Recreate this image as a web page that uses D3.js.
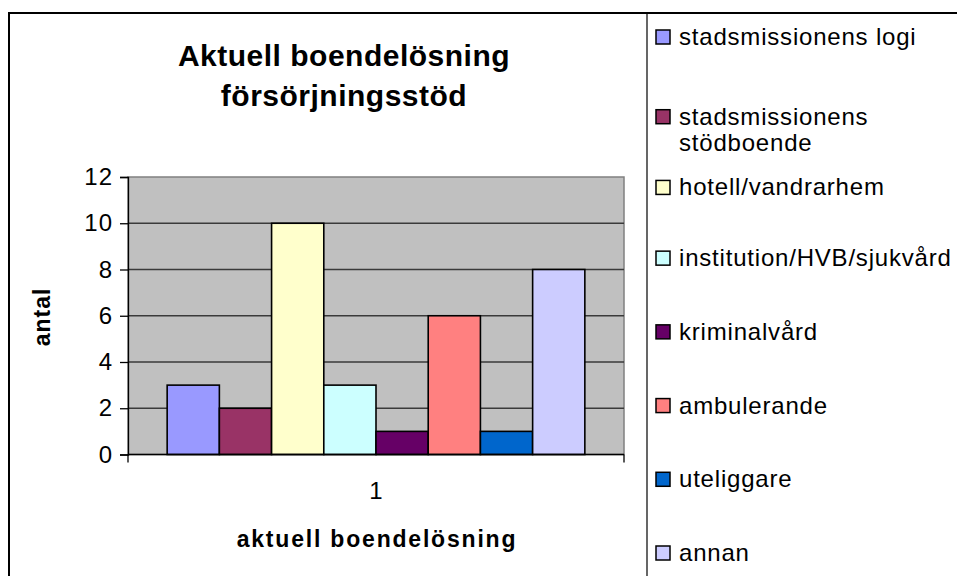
<!DOCTYPE html>
<html>
<head>
<meta charset="utf-8">
<script src="https://cdn.jsdelivr.net/npm/d3@7.9.0/dist/d3.min.js"></script>
<style>
  body { margin: 0; background: #fff; }
  svg { display: block; font-family: Arial, "Liberation Sans", sans-serif; }
</style>
</head>
<body>
<svg id="chart" width="957" height="576"></svg>
<script>
// data
const categories = [
  "stadsmissionens logi",
  "stadsmissionens stödboende",
  "hotell/vandrarhem",
  "institution/HVB/sjukvård",
  "kriminalvård",
  "ambulerande",
  "uteliggare",
  "annan"
];
const values = [3, 2, 10, 3, 1, 6, 1, 8];
const colorsList = ["#9999FF", "#993366", "#FFFFCC", "#CCFFFF", "#660066", "#FF8080", "#0066CC", "#CCCCFF"];
const yTicks = [0, 2, 4, 6, 8, 10, 12];
const xGroups = ["1"];
const titleLines = ["Aktuell boendelösning", "försörjningsstöd"];

const data = categories.map((c, i) => ({ label: c, value: values[i] }));

const svg = d3.select("#chart");

// plot area box
const plot = { left: 128, right: 624, top: 177, bottom: 454.5 };

// outer frame + legend separator
svg.append("rect")
  .attr("x", 9).attr("y", 13)
  .attr("width", 1000).attr("height", 600)
  .attr("fill", "#fff")
  .attr("stroke", "#000")
  .attr("stroke-width", 2);

svg.append("line")
  .attr("x1", 647).attr("x2", 647)
  .attr("y1", 13).attr("y2", 576)
  .attr("stroke", "#000")
  .attr("stroke-width", 1.2);

let x0 = d3.scaleBand().domain(xGroups).range([plot.left, plot.right]);
let x1 = d3.scaleBand().domain(categories)
  .range([0, x0.bandwidth()])
  .paddingInner(0)
  .paddingOuter(0.75);
let y = d3.scaleLinear().domain([0, 12]).range([plot.bottom, plot.top]);
let color = d3.scaleOrdinal().domain(categories).range(colorsList);

// grey plot background
svg.append("rect")
  .attr("x", plot.left).attr("y", plot.top)
  .attr("width", plot.right - plot.left)
  .attr("height", plot.bottom - plot.top)
  .attr("fill", "#C0C0C0")
  .attr("stroke", "#808080")
  .attr("stroke-width", 1.5);

// gridlines
svg.append("g")
  .selectAll("line")
  .data(yTicks.filter(t => t > 0 && t < 12))
  .join("line")
  .attr("x1", plot.left).attr("x2", plot.right)
  .attr("y1", d => y(d)).attr("y2", d => y(d))
  .attr("stroke", "#3a3a3a")
  .attr("stroke-width", 1.3);

// bars
svg.append("g")
  .selectAll("rect")
  .data(data)
  .join("rect")
  .attr("x", d => x0("1") + x1(d.label))
  .attr("y", d => y(d.value))
  .attr("width", x1.bandwidth())
  .attr("height", d => y(0) - y(d.value))
  .attr("fill", d => color(d.label))
  .attr("stroke", "#000")
  .attr("stroke-width", 1.6);

// y axis
let yAxis = d3.axisLeft(y).tickValues(yTicks).tickSize(8).tickPadding(7);
let gy = svg.append("g")
  .attr("transform", `translate(${plot.left},0)`)
  .call(yAxis);
gy.select(".domain").attr("stroke", "#000").attr("stroke-width", 1.3);
gy.selectAll(".tick line").attr("stroke", "#000").attr("stroke-width", 1.3);
gy.selectAll(".tick text")
  .attr("font-size", 24)
  .attr("font-family", "Arial, 'Liberation Sans', sans-serif")
  .attr("fill", "#000")
  .attr("letter-spacing", 1);

// x axis: one category "1", ticks at band edges
let gx = svg.append("g")
  .attr("transform", `translate(0,${plot.bottom})`);
gx.append("line")
  .attr("x1", plot.left).attr("x2", plot.right)
  .attr("stroke", "#000").attr("stroke-width", 1.6);
gx.selectAll(".edge")
  .data([plot.left, plot.right])
  .join("line")
  .attr("class", "edge")
  .attr("x1", d => d).attr("x2", d => d)
  .attr("y1", 0).attr("y2", 8)
  .attr("stroke", "#000").attr("stroke-width", 1.3);
gx.selectAll(".lbl")
  .data(xGroups)
  .join("text")
  .attr("class", "lbl")
  .attr("x", d => x0(d) + x0.bandwidth() / 2)
  .attr("y", 44)
  .attr("text-anchor", "middle")
  .attr("font-size", 24)
  .text(d => d);

// title
svg.append("g")
  .selectAll("text")
  .data(titleLines)
  .join("text")
  .attr("x", 344)
  .attr("y", (d, i) => 66 + i * 40)
  .attr("text-anchor", "middle")
  .attr("font-size", 30)
  .attr("font-weight", "bold")
  .attr("letter-spacing", 0.5)
  .text(d => d);

// axis titles
svg.append("text")
  .attr("x", 377).attr("y", 547)
  .attr("text-anchor", "middle")
  .attr("font-size", 23)
  .attr("font-weight", "bold")
  .attr("letter-spacing", 1.8)
  .text("aktuell boendelösning");

svg.append("text")
  .attr("transform", "translate(50,317) rotate(-90)")
  .attr("text-anchor", "middle")
  .attr("font-size", 23)
  .attr("font-weight", "bold")
  .attr("letter-spacing", 1)
  .text("antal");

// legend
let ly = d3.scalePoint().domain(categories).range([37, 553]);
let legend = svg.append("g");
let items = legend.selectAll("g")
  .data(data)
  .join("g")
  .attr("transform", (d, i) => `translate(0,${ly(d.label) + (i === 1 ? 6 : i === 2 ? 3 : 0)})`);

items.append("rect")
  .attr("x", 656).attr("y", -7)
  .attr("width", 14).attr("height", 14)
  .attr("fill", d => color(d.label))
  .attr("stroke", "#000")
  .attr("stroke-width", 1.5);

items.append("text")
  .attr("x", 679).attr("y", 8)
  .attr("font-size", 24)
  .attr("letter-spacing", 0.8)
  .each(function (d) {
    let t = d3.select(this);
    // the long name wraps onto two lines like in the original
    let lines = d.label === "stadsmissionens stödboende"
      ? ["stadsmissionens", "stödboende"]
      : [d.label];
    lines.forEach((line, k) => {
      t.append("tspan").attr("x", 679).attr("dy", k === 0 ? 0 : 26).text(line);
    });
  });
</script>
</body>
</html>
